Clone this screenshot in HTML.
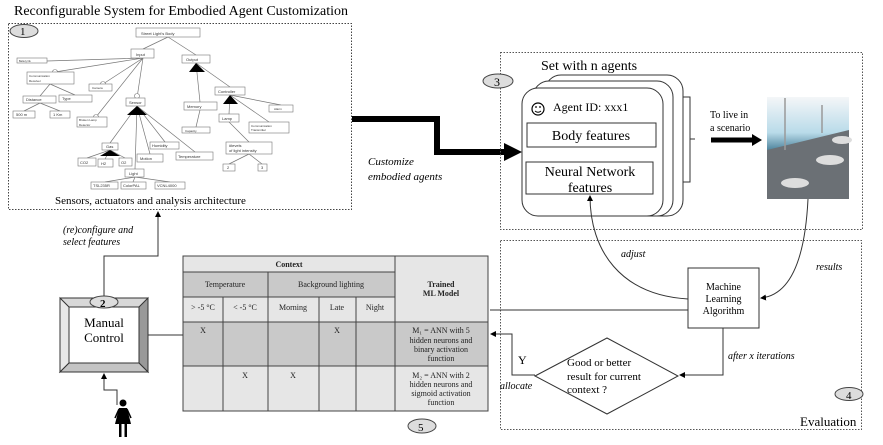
<!DOCTYPE html>
<html><head><meta charset="utf-8"><style>
html,body{margin:0;padding:0;background:#fff;}
svg{display:block;font-family:"Liberation Serif",serif;}
.s{font-family:"Liberation Sans",sans-serif;font-size:4px;}
</style></head><body>
<svg width="883" height="445" viewBox="0 0 883 445" xmlns="http://www.w3.org/2000/svg">
<defs>
<marker id="a" markerWidth="6" markerHeight="6" refX="5" refY="3" orient="auto"><path d="M0,0L6,3L0,6z" fill="#000"/></marker>
<linearGradient id="sky" x1="0" y1="0" x2="0" y2="1"><stop offset="0" stop-color="#f4f6f8"/><stop offset=".35" stop-color="#b9dbe9"/><stop offset=".55" stop-color="#3c7590"/><stop offset="1" stop-color="#5a636b"/></linearGradient>
</defs>
<text x="14" y="15" font-size="14">Reconfigurable System for Embodied Agent Customization</text>
<rect x="8.5" y="23.5" width="343" height="186" fill="none" stroke="#444" stroke-dasharray="1.5,1.5"/>
<ellipse cx="24" cy="31" rx="14" ry="6.5" fill="#ddd" stroke="#444"/><text x="20" y="35" font-size="11">1</text>
<g fill="none" stroke="#777" stroke-width="0.7">
<path d="M168,37L143,49M168,37L196,55M143,58L47,61M143,58L55,72M143,58L103,84M143,58L137,98M143,58L96,117M50,84L40,96M50,84L75,95M40,103L24,111M40,103L60,111M137,106L110,143M137,106L135,169M137,106L150,154M137,106L165,142M137,106L195,152M110,150L87,158M110,150L105,159M110,150L125,158M135,177L105,182M135,177L133,182M135,177L170,182M196,63L200,102M196,63L230,87M200,110L196,127M230,95L229,114M230,95L281,105M230,95L269,122M229,122L249,142M249,154L229,164M249,154L262,164"/>
</g>
<path d="M196,63L189,72L205,72z" fill="#000"/>
<path d="M137,106L127,115L147,115z" fill="#000"/>
<path d="M230,95L223,104L238,104z" fill="#000"/>
<path d="M110,150L100,156L120,156z" fill="#000"/>
<g fill="#fff" stroke="#777" stroke-width="0.6">
<circle cx="55" cy="72" r="2.5"/><circle cx="103" cy="84" r="2.5"/><circle cx="137" cy="96" r="2.5"/><circle cx="96" cy="117" r="2.5"/>
<rect x="136" y="28" width="64" height="9"/><rect x="131" y="49" width="23" height="9"/><rect x="182" y="55" width="28" height="8"/>
<rect x="17" y="58" width="30" height="5"/><rect x="27" y="72" width="47" height="12"/><rect x="89" y="84" width="23" height="7"/>
<rect x="23" y="96" width="33" height="7"/><rect x="59" y="95" width="33" height="7"/><rect x="13" y="111" width="22" height="7"/><rect x="50" y="111" width="20" height="7"/>
<rect x="126" y="98" width="19" height="8"/><rect x="77" y="117" width="30" height="10"/><rect x="184" y="102" width="33" height="8"/><rect x="182" y="127" width="28" height="6"/>
<rect x="215" y="87" width="30" height="8"/><rect x="269" y="105" width="24" height="7"/><rect x="219" y="114" width="20" height="8"/><rect x="249" y="122" width="40" height="11"/>
<rect x="226" y="142" width="46" height="12"/><rect x="223" y="164" width="12" height="7"/><rect x="258" y="164" width="9" height="7"/>
<rect x="102" y="143" width="16" height="7"/><rect x="78" y="158" width="18" height="8"/><rect x="98" y="159" width="15" height="8"/><rect x="119" y="158" width="13" height="8"/>
<rect x="137" y="154" width="26" height="8"/><rect x="150" y="142" width="29" height="7"/><rect x="176" y="152" width="37" height="8"/><rect x="125" y="169" width="19" height="8"/>
<rect x="91" y="182" width="27" height="7"/><rect x="121" y="182" width="25" height="7"/><rect x="155" y="182" width="30" height="7"/>
</g>
<g class="s" fill="#333">
<text x="141" y="35">Street Light's Body</text><text x="136" y="56">Input</text><text x="186" y="61">Output</text>
<text x="19" y="62" font-size="2.5">Battery life</text><text x="29" y="77" font-size="3">Communication</text><text x="29" y="82" font-size="3">Receiver</text>
<text x="92" y="89" font-size="3">Camera</text><text x="26" y="101">Distance</text><text x="62" y="100">Type</text><text x="16" y="116">500 m</text><text x="53" y="116">1 Km</text>
<text x="129" y="104">Sensor</text><text x="79" y="121" font-size="3">Broken Lamp</text><text x="79" y="126" font-size="3">Detector</text>
<text x="187" y="108">Memory</text><text x="185" y="132" font-size="3">Capacity</text><text x="218" y="93">Controller</text><text x="274" y="110" font-size="3">Alarm</text>
<text x="222" y="120">Lamp</text><text x="251" y="127" font-size="3">Communication</text><text x="251" y="131" font-size="3">Transmitter</text>
<text x="229" y="147">#levels</text><text x="229" y="152">of light intensity</text><text x="227" y="169">2</text><text x="261" y="169">3</text>
<text x="106" y="148">Gas</text><text x="80" y="164">CO2</text><text x="101" y="165">H2</text><text x="121" y="164">O2</text>
<text x="140" y="160">Motion</text><text x="152" y="147">Humidity</text><text x="178" y="158">Temperature</text><text x="129" y="175">Light</text>
<text x="93" y="187">TSL235R</text><text x="123" y="187">ColorPAL</text><text x="157" y="187">VCNL4000</text>
</g>
<text x="55" y="204" font-size="11">Sensors, actuators  and analysis architecture</text>
<!-- thick arrow -->
<path d="M352,119L437,119L437,152L506,152" fill="none" stroke="#000" stroke-width="6"/>
<path d="M504,143L522,152L504,161z" fill="#000"/>
<text x="368" y="165" font-size="11" font-style="italic">Customize</text>
<text x="368" y="180" font-size="11" font-style="italic">embodied agents</text>
<!-- box 3 -->
<rect x="500.5" y="52.5" width="362" height="177" fill="none" stroke="#555" stroke-dasharray="1.5,1.5"/>
<text x="541" y="70" font-size="14">Set with n agents</text>
<ellipse cx="498" cy="81" rx="15" ry="7" fill="#ddd" stroke="#444"/><text x="494" y="86" font-size="12">3</text>
<rect x="545" y="75" width="138" height="141" rx="16" fill="#fff" stroke="#333"/>
<rect x="533" y="81" width="140" height="135" rx="16" fill="#fff" stroke="#333"/>
<rect x="522" y="88" width="141" height="128" rx="16" fill="#fff" stroke="#333"/>
<circle cx="538" cy="109" r="6" fill="none" stroke="#000" stroke-width="1.2"/><circle cx="536" cy="107" r="0.9"/><circle cx="540" cy="107" r="0.9"/><path d="M535,111Q538,113.5 541,111" fill="none" stroke="#000"/>
<text x="553" y="111" font-size="12">Agent ID: xxx1</text>
<rect x="527" y="123" width="129" height="24" fill="#fff" stroke="#333"/><text x="591" y="140" font-size="14" text-anchor="middle">Body features</text>
<rect x="526" y="162" width="127" height="32" fill="#fff" stroke="#333"/><text x="590" y="176" font-size="14" text-anchor="middle">Neural Network</text><text x="590" y="192" font-size="14" text-anchor="middle">features</text>
<path d="M683,97L690,97L690,182L683,182M690,139L695,139" fill="none" stroke="#333"/>
<text x="710" y="118" font-size="10">To live in</text><text x="710" y="131" font-size="10">a scenario</text>
<path d="M711,140L753,140" stroke="#000" stroke-width="5"/><path d="M752,134L762,140L752,146z" fill="#000"/>
<rect x="767" y="97" width="82" height="102" fill="url(#sky)"/>
<path d="M767,150L849,130L849,199L767,199z" fill="#6b7075"/>
<ellipse cx="795" cy="183" rx="14" ry="5" fill="#ddd"/><ellipse cx="830" cy="160" rx="14" ry="5" fill="#ddd"/><ellipse cx="842" cy="140" rx="10" ry="4" fill="#ddd"/>
<path d="M785,98L785,150M822,105L822,133" stroke="#999" stroke-width="1.5"/>
<!-- box 4 -->
<rect x="500.5" y="240.5" width="361" height="189" fill="none" stroke="#555" stroke-dasharray="1.5,1.5"/>
<rect x="688" y="268" width="71" height="60" fill="#fff" stroke="#333"/>
<text x="723.5" y="290" font-size="10" text-anchor="middle">Machine</text><text x="723.5" y="302" font-size="10" text-anchor="middle">Learning</text><text x="723.5" y="314" font-size="10" text-anchor="middle">Algorithm</text>
<path d="M535,376L607,338L678,376L607,414z" fill="#fff" stroke="#333"/>
<text x="567" y="366" font-size="11">Good  or better</text><text x="567" y="380" font-size="11">result for current</text><text x="567" y="393" font-size="11">context ?</text>
<text x="800" y="426" font-size="13">Evaluation</text>
<ellipse cx="849" cy="394" rx="14" ry="6.5" fill="#ddd" stroke="#444"/><text x="846" y="399" font-size="11">4</text>
<text x="621" y="257" font-size="10" font-style="italic">adjust</text>
<text x="816" y="270" font-size="10" font-style="italic">results</text>
<text x="728" y="359" font-size="10" font-style="italic">after x iterations</text>
<text x="500" y="389" font-size="10" font-style="italic">allocate</text>
<text x="518" y="364" font-size="12">Y</text>
<g fill="none" stroke="#333">
<path d="M723,328L723,375L680,375" marker-end="url(#a)"/>
<path d="M535,375L512,375L512,334L491,334" marker-end="url(#a)"/>
<path d="M490,310L688,310"/>
<path d="M688,299C620,295 590,250 590,196" marker-end="url(#a)"/>
<path d="M808,199C805,260 790,295 761,298" marker-end="url(#a)"/>
</g>
<!-- table -->
<g stroke="#444" stroke-width="1">
<rect x="183" y="256" width="212" height="16" fill="#e6e6e6"/>
<rect x="183" y="272" width="212" height="25" fill="#c9c9c9"/>
<rect x="183" y="297" width="212" height="25" fill="#e6e6e6"/>
<rect x="183" y="322" width="212" height="44" fill="#c9c9c9"/>
<rect x="183" y="366" width="212" height="45" fill="#e6e6e6"/>
<rect x="395" y="256" width="93" height="66" fill="#e6e6e6"/>
<rect x="395" y="322" width="93" height="44" fill="#c9c9c9"/>
<rect x="395" y="366" width="93" height="45" fill="#e6e6e6"/>
<path d="M268,272L268,411M223,297L223,411M319,297L319,411M356,297L356,411"/>
</g>
<g font-size="8" text-anchor="middle" fill="#222">
<text x="289" y="267" font-weight="bold">Context</text>
<text x="225" y="287">Temperature</text><text x="331" y="287">Background lighting</text>
<text x="441" y="287" font-weight="bold">Trained</text><text x="441" y="296" font-weight="bold">ML Model</text>
<text x="203" y="310">&gt; -5 °C</text><text x="245" y="310">&lt; -5 °C</text><text x="293" y="310">Morning</text><text x="337" y="310">Late</text><text x="375" y="310">Night</text>
<text x="203" y="333">X</text><text x="337" y="333">X</text><text x="245" y="378">X</text><text x="293" y="378">X</text>
<text x="441" y="333">M₁ = ANN with 5</text><text x="441" y="343">hidden neurons and</text><text x="441" y="352">binary activation</text><text x="441" y="361">function</text>
<text x="441" y="378">M₂ = ANN with 2</text><text x="441" y="387">hidden neurons and</text><text x="441" y="396">sigmoid activation</text><text x="441" y="405">function</text>
</g>
<ellipse cx="422" cy="426" rx="14" ry="7" fill="#ddd" stroke="#444"/><text x="418" y="431" font-size="11">5</text>
<!-- manual control -->
<rect x="60" y="298" width="88" height="74" fill="#d8d8d8" stroke="#333"/>
<path d="M60,298L69,307L69,363L60,372z" fill="#e8e8e8" stroke="#333"/>
<path d="M148,298L139,307L139,363L148,372z" fill="#999" stroke="#333"/>
<path d="M60,372L69,363L139,363L148,372z" fill="#c4c4c4" stroke="#333"/>
<rect x="69" y="307" width="70" height="56" fill="#fff" stroke="#333"/>
<text x="104" y="327" font-size="13" text-anchor="middle">Manual</text><text x="104" y="342" font-size="13" text-anchor="middle">Control</text>
<ellipse cx="104" cy="302" rx="14" ry="6" fill="#ddd" stroke="#444"/><text x="100" y="307" font-size="11" font-weight="bold">2</text>
<g fill="none" stroke="#333">
<path d="M104,296L104,256L158,256L158,212" marker-end="url(#a)"/>
<path d="M148,335L183,335"/>
<path d="M117,405L117,390L104,390L104,374" marker-end="url(#a)"/>
</g>
<text x="63" y="233" font-size="10" font-style="italic">(re)configure and</text>
<text x="63" y="245" font-size="10" font-style="italic">select features</text>
<!-- person -->
<circle cx="123" cy="403" r="3.5" fill="#000"/>
<path d="M119,408L127,408L131,424L115,424z" fill="#000"/>
<path d="M119,409L115,418M127,409L131,418" stroke="#000" stroke-width="1.5"/>
<rect x="119" y="424" width="2.5" height="13" fill="#000"/><rect x="124.5" y="424" width="2.5" height="13" fill="#000"/>
</svg>
</body></html>
